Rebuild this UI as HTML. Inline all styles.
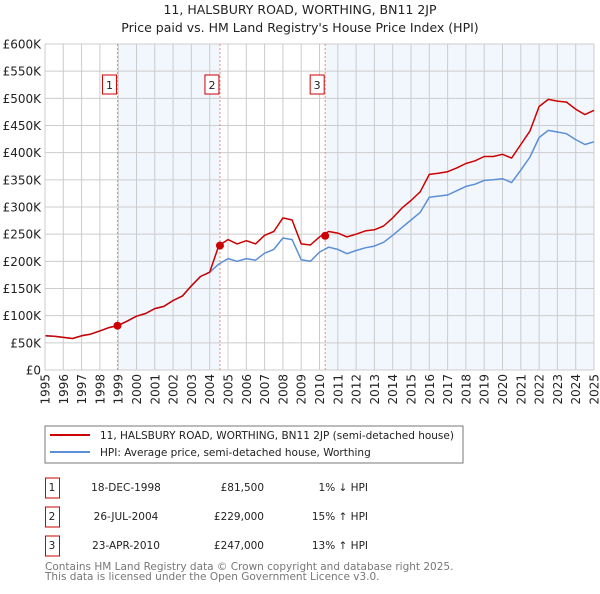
<!DOCTYPE html>
<html><head><meta charset="utf-8"><style>
body{margin:0;background:#fff;font-family:"DejaVu Sans","Liberation Sans",sans-serif;}
svg text{font-family:"DejaVu Sans","Liberation Sans",sans-serif;}
</style></head><body>
<svg id="chart" width="600" height="590" viewBox="0 0 600 590" xmlns="http://www.w3.org/2000/svg">
<text x="300" y="14" text-anchor="middle" font-size="12.5" fill="#222">11, HALSBURY ROAD, WORTHING, BN11 2JP</text>
<text x="300" y="32" text-anchor="middle" font-size="12.5" fill="#222">Price paid vs. HM Land Registry's House Price Index (HPI)</text>
<g id="shade"></g>
<g id="grid"></g>
<g id="series"></g>
<g id="axes"></g>
<g id="legend">
<rect x="45" y="426" width="418" height="37" fill="#fff" stroke="#777" stroke-width="1"/>
<line x1="50" y1="435" x2="90" y2="435" stroke="#cc0000" stroke-width="2"/>
<text x="100" y="439" font-size="10.5" fill="#222">11, HALSBURY ROAD, WORTHING, BN11 2JP (semi-detached house)</text>
<line x1="50" y1="452" x2="90" y2="452" stroke="#5b8fd6" stroke-width="2"/>
<text x="100" y="456" font-size="10.5" fill="#222">HPI: Average price, semi-detached house, Worthing</text>
</g>
<g id="table" font-size="10.5" fill="#222"></g>
<text x="45" y="570" font-size="10.5" fill="#777">Contains HM Land Registry data © Crown copyright and database right 2025.</text>
<text x="45" y="580" font-size="10.5" fill="#777">This data is licensed under the Open Government Licence v3.0.</text>
</svg>
<script>
const years=[1995,1995.5,1996,1996.5,1997,1997.5,1998,1998.5,1999,1999.5,2000,2000.5,2001,2001.5,2002,2002.5,2003,2003.5,2004,2004.5,2005,2005.5,2006,2006.5,2007,2007.5,2008,2008.5,2009,2009.5,2010,2010.5,2011,2011.5,2012,2012.5,2013,2013.5,2014,2014.5,2015,2015.5,2016,2016.5,2017,2017.5,2018,2018.5,2019,2019.5,2020,2020.5,2021,2021.5,2022,2022.5,2023,2023.5,2024,2024.5,2025];
const hpiValues=[63,62,60,58,63,66,72,78,82,90,99,104,113,117,128,136,155,172,180,195,205,200,205,202,215,222,243,240,203,200,217,226,222,214,220,225,228,235,248,262,276,290,318,320,322,330,338,342,349,350,352,345,368,392,428,441,438,435,424,415,420];
const priceValues=[63,62,60,58,63,66,72,78,82,90,99,104,113,117,128,136,155,172,180,229,240,232,238,232,248,255,280,276,232,230,245,255,252,245,250,256,258,265,280,298,312,328,360,362,365,372,380,385,393,393,397,390,415,440,485,498,495,493,480,470,478];
const saleYears=[1998.96,2004.56,2010.31];
const salePrices=[81.5,229,247];
const saleLabels=['1','2','3'];
const saleDates=['18-DEC-1998','26-JUL-2004','23-APR-2010'];
const salePriceText=['£81,500','£229,000','£247,000'];
const saleHpiText=['1% ↓ HPI','15% ↑ HPI','13% ↑ HPI'];
const yTicks=[0,50,100,150,200,250,300,350,400,450,500,550,600];
const yTickLabels=['£0','£50K','£100K','£150K','£200K','£250K','£300K','£350K','£400K','£450K','£500K','£550K','£600K'];
const xTicks=[1995,1996,1997,1998,1999,2000,2001,2002,2003,2004,2005,2006,2007,2008,2009,2010,2011,2012,2013,2014,2015,2016,2017,2018,2019,2020,2021,2022,2023,2024,2025];

const NS='http://www.w3.org/2000/svg';
const X0=45,X1=594,Y0=370,Y1=44;
const xs=y=>X0+(y-1995)/(2025-1995)*(X1-X0);
const ys=v=>Y0-(v/600)*(Y0-Y1);
function mk(tag,attrs,parent){const e=document.createElementNS(NS,tag);for(const k in attrs)e.setAttribute(k,attrs[k]);parent.appendChild(e);return e;}
const shade=document.getElementById('shade'),grid=document.getElementById('grid'),series=document.getElementById('series'),axes=document.getElementById('axes'),table=document.getElementById('table');
let r=mk('rect',{x:xs(saleYears[0]),y:Y1,width:xs(saleYears[1])-xs(saleYears[0]),height:Y0-Y1,fill:'#f2f6fd'},shade);


r=mk('rect',{x:xs(saleYears[2]),y:Y1,width:X1-xs(saleYears[2]),height:Y0-Y1,fill:'#f2f6fd'},shade);


yTicks.forEach((t,i)=>{
 const l=mk('line',{x1:X0,x2:X1,y1:ys(t),y2:ys(t),stroke:'#ccc','stroke-width':1},grid);
 
 
 const tx=mk('text',{x:41,y:ys(t)+4.5,'text-anchor':'end','font-size':'12',fill:'#222'},axes);
 tx.textContent=yTickLabels[i];
 
 
});
xTicks.forEach(t=>{
 const l=mk('line',{x1:xs(t),x2:xs(t),y1:Y1,y2:Y0,stroke:'#ccc','stroke-width':1},grid);
 
 
 const px=xs(t)+4.5,py=374;
 const tx=mk('text',{x:px,y:py,'text-anchor':'end','font-size':'12',fill:'#222',transform:'rotate(-90 '+px+' '+py+')'},axes);
 tx.textContent=String(t);
 
 
});
saleYears.forEach((sy,i)=>{
 const l=mk('line',{x1:xs(sy),x2:xs(sy),y1:Y1,y2:Y0,stroke:'#e88','stroke-width':1,'stroke-dasharray':'2,2'},series);
 
 
 const g=mk('g',{},series);
 
 
 mk('rect',{x:xs(sy)-15,y:75,width:14,height:19,fill:'#fff',stroke:'#cc0000','stroke-width':1},g);
 const t=mk('text',{x:xs(sy)-8,y:89,'text-anchor':'middle','font-size':'11',fill:'#222'},g);
 t.textContent=saleLabels[i];
});
function path(vals,color,name){
 const d=vals.map((v,i)=>(i?'L':'M')+xs(years[i]).toFixed(1)+','+ys(v).toFixed(1)).join('');
 const p=mk('path',{d:d,fill:'none',stroke:color,'stroke-width':1.5,'stroke-linejoin':'round'},series);
 
 
}
path(hpiValues,'#5b8fd6','hpi-line');
path(priceValues,'#cc0000','price-line');
saleYears.forEach((sy,i)=>{
 const c=mk('circle',{cx:xs(sy),cy:ys(salePrices[i]),r:4,fill:'#cc0000'},series);
 
 
});
mk('line',{x1:X0,x2:X0,y1:Y1,y2:Y0,stroke:'#ccc'},axes);
saleLabels.forEach((lab,i)=>{
 const y=487+i*29;
 const g=mk('g',{},table);
 
 
 mk('rect',{x:45.5,y:y-9,width:14,height:20,fill:'#fff',stroke:'#cc0000','stroke-width':1},g);
 let t=mk('text',{x:52,y:y+4,'text-anchor':'middle'},g);t.textContent=lab;
 t=mk('text',{x:126,y:y+4,'text-anchor':'middle'},g);t.textContent=saleDates[i];
 t=mk('text',{x:264,y:y+4,'text-anchor':'end'},g);t.textContent=salePriceText[i];
 t=mk('text',{x:368,y:y+4,'text-anchor':'end'},g);t.textContent=saleHpiText[i];
});
</script>
</body></html>
